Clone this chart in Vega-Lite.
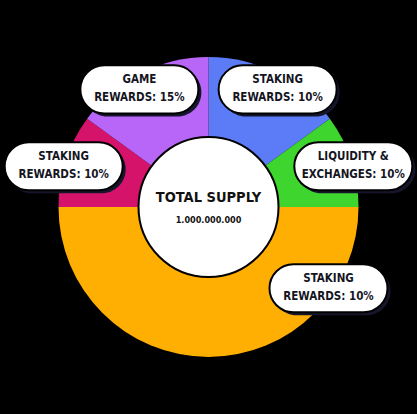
{
  "$schema": "https://vega.github.io/schema/vega-lite/v6.json",
  "width": 417,
  "height": 414,
  "autosize": {"type": "fit", "contains": "padding"},
  "padding": 0,
  "background": "#000000",
  "config": {"view": {"stroke": null}},
  "data": {
    "values": [
      {"category": "Staking rewards (blue)", "value": 15, "label": "STAKING\nREWARDS: 10%", "order": 1},
      {"category": "Liquidity & exchanges", "value": 10, "label": "LIQUIDITY &\nEXCHANGES: 10%", "order": 2},
      {"category": "Staking rewards (orange)", "value": 50, "label": "STAKING\nREWARDS: 10%", "order": 3},
      {"category": "Staking rewards (magenta)", "value": 10, "label": "STAKING\nREWARDS: 10%", "order": 4},
      {"category": "Game rewards", "value": 15, "label": "GAME\nREWARDS: 15%", "order": 5}
    ]
  },
  "layer": [
    {
      "mark": {"type": "arc", "outerRadius": 150, "stroke": null},
      "encoding": {
        "theta": {"field": "value", "type": "quantitative", "stack": true},
        "order": {"field": "order", "type": "quantitative"},
        "color": {
          "field": "category",
          "type": "nominal",
          "legend": null,
          "scale": {
            "domain": ["Staking rewards (blue)", "Liquidity & exchanges", "Staking rewards (orange)", "Staking rewards (magenta)", "Game rewards"],
            "range": ["#5B7CF6", "#3ED62E", "#FFAE02", "#D6136B", "#B866F8"]
          }
        }
      }
    },
    {
      "data": {"values": [{"name": "Total supply"}]},
      "mark": {"type": "point", "shape": "circle", "size": 19600, "filled": true, "fill": "#FFFFFF", "stroke": "#000000", "strokeWidth": 2, "opacity": 1},
      "encoding": {}
    },
    {
      "transform": [
        {"joinaggregate": [{"op": "sum", "field": "value", "as": "total"}]},
        {"window": [{"op": "sum", "field": "value", "as": "cum"}], "sort": [{"field": "order"}], "frame": [null, 0]},
        {"calculate": "((datum.cum - datum.value) / datum.total * 360 + min(datum.value / datum.total * 180, 38)) * PI / 180", "as": "ang"},
        {"calculate": "153 * sin(datum.ang)", "as": "lx"},
        {"calculate": "132 * cos(datum.ang)", "as": "ly"}
      ],
      "encoding": {
        "x": {"field": "lx", "type": "quantitative", "scale": {"domain": [-208.5, 208.5], "nice": false, "zero": false}, "axis": null},
        "y": {"field": "ly", "type": "quantitative", "scale": {"domain": [-207, 207], "nice": false, "zero": false}, "axis": null}
      },
      "layer": [
        {
          "mark": {"type": "point", "shape": "M -0.593 -0.407 L 0.593 -0.407 A 0.407 0.407 0 0 1 0.593 0.407 L -0.593 0.407 A 0.407 0.407 0 0 1 -0.593 -0.407 Z", "size": 13924, "filled": true, "fill": "#15152B", "opacity": 1, "xOffset": 3, "yOffset": 3}
        },
        {
          "mark": {"type": "point", "shape": "M -0.593 -0.407 L 0.593 -0.407 A 0.407 0.407 0 0 1 0.593 0.407 L -0.593 0.407 A 0.407 0.407 0 0 1 -0.593 -0.407 Z", "size": 13924, "filled": true, "fill": "#FFFFFF", "stroke": "#000000", "strokeWidth": 2, "opacity": 1}
        },
        {
          "mark": {"type": "text", "lineBreak": "\n", "font": "DejaVu Sans Condensed, Roboto Condensed, Roboto, sans-serif", "fontWeight": "bold", "fontSize": 11.5, "lineHeight": 18, "fill": "#15151F", "align": "center", "baseline": "middle", "dy": -9},
          "encoding": {"text": {"field": "label", "type": "nominal"}}
        }
      ]
    },
    {
      "data": {"values": [{"title": "TOTAL SUPPLY", "amount": "1.000.000.000"}]},
      "layer": [
        {
          "mark": {"type": "text", "font": "DejaVu Sans Condensed, Roboto Condensed, Roboto, sans-serif", "fontWeight": "bold", "fontSize": 14.5, "fill": "#111111", "align": "center", "baseline": "middle", "dy": -9},
          "encoding": {"text": {"field": "title", "type": "nominal"}}
        },
        {
          "mark": {"type": "text", "font": "DejaVu Sans Condensed, Roboto Condensed, Roboto, sans-serif", "fontWeight": "bold", "fontSize": 9, "fill": "#111111", "align": "center", "baseline": "middle", "dy": 13},
          "encoding": {"text": {"field": "amount", "type": "nominal"}}
        }
      ]
    }
  ]
}
